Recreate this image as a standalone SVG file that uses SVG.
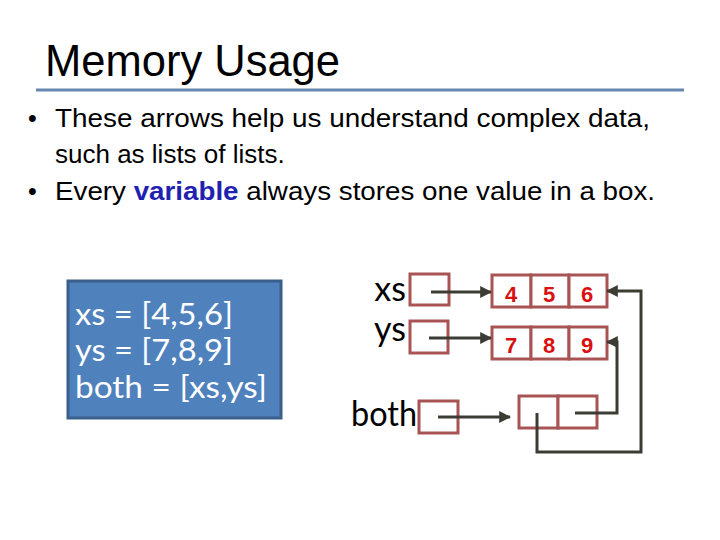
<svg xmlns="http://www.w3.org/2000/svg" width="720" height="540" viewBox="0 0 720 540">
<defs>
<style>
.title{font-family:"Liberation Sans",Arial,sans-serif;font-size:44px;fill:#000}
.bul{font-family:"Liberation Sans",Arial,sans-serif;font-size:26px;fill:#000}
.dot{font-family:"Liberation Sans",Arial,sans-serif;font-size:25px;fill:#000}
.code{font-family:Lato,"Open Sans",sans-serif;font-size:30px;fill:#fff}
.lbl{font-family:Lato,"Open Sans",sans-serif;font-size:34px;fill:#000}
.num{font-family:"Liberation Sans",Arial,sans-serif;font-size:22px;font-weight:bold;fill:#d81010;text-anchor:middle}
.cell{fill:#fff;stroke:#a85454;stroke-width:3}
.conn{fill:none;stroke:#3c3c34;stroke-width:3}
</style>
<marker id="ah" viewBox="0 0 10 10" refX="9" refY="5" markerWidth="4" markerHeight="4" orient="auto" markerUnits="strokeWidth">
<path d="M0,0 L10,5 L0,10 z" fill="#3c3c34"/>
</marker>
</defs>
<rect width="720" height="540" fill="#fff"/>
<g id="title">
<text class="title" x="45" y="76" textLength="295" lengthAdjust="spacingAndGlyphs">Memory Usage</text>
<line x1="36" y1="90" x2="684" y2="90" stroke="#6688b0" stroke-width="3"/>
</g>
<g id="bullets">
<text class="dot" x="28" y="127">•</text>
<text class="bul" x="55" y="127" textLength="595" lengthAdjust="spacingAndGlyphs">These arrows help us understand complex data,</text>
<text class="bul" x="55" y="163">such as lists of lists.</text>
<text class="dot" x="28" y="200">•</text>
<text class="bul" x="55" y="200" textLength="600" lengthAdjust="spacingAndGlyphs">Every <tspan font-weight="bold" fill="#1f22b0">variable</tspan> always stores one value in a box.</text>
</g>
<g id="code">
<rect x="68" y="281" width="213" height="137" fill="#4f81bd" stroke="#3a5f8c" stroke-width="3"/>
<text class="code" x="75" y="325" textLength="158" lengthAdjust="spacingAndGlyphs">xs = [4,5,6]</text>
<text class="code" x="75" y="361" textLength="158" lengthAdjust="spacingAndGlyphs">ys = [7,8,9]</text>
<text class="code" x="75" y="398" textLength="192" lengthAdjust="spacingAndGlyphs">both = [xs,ys]</text>
</g>
<g id="xs">
<text class="lbl" x="406" y="301" text-anchor="end">xs</text>
<rect class="cell" x="410" y="274" width="39" height="31"/>
</g>
<g id="ys">
<text class="lbl" x="406" y="341" text-anchor="end">ys</text>
<rect class="cell" x="410" y="321" width="38" height="32"/>
</g>
<g id="both">
<text class="lbl" x="351" y="426" textLength="66" lengthAdjust="spacingAndGlyphs">both</text>
<rect class="cell" x="419" y="401" width="39" height="32"/>
</g>
<g id="list456">
<rect class="cell" x="492" y="275" width="39" height="32"/>
<rect class="cell" x="531" y="275" width="38" height="32"/>
<rect class="cell" x="569" y="275" width="38" height="32"/>
<text class="num" x="511" y="302">4</text>
<text class="num" x="549" y="302">5</text>
<text class="num" x="587" y="302">6</text>
</g>
<g id="list789">
<rect class="cell" x="492" y="327" width="39" height="32"/>
<rect class="cell" x="531" y="327" width="38" height="32"/>
<rect class="cell" x="569" y="327" width="38" height="32"/>
<text class="num" x="511" y="353">7</text>
<text class="num" x="549" y="353">8</text>
<text class="num" x="587" y="353">9</text>
</g>
<g id="listboth">
<rect class="cell" x="519" y="396" width="39" height="32"/>
<rect class="cell" x="558" y="396" width="39" height="32"/>
</g>
<g id="connectors">
<path class="conn" d="M431,292 H491" marker-end="url(#ah)"/>
<path class="conn" d="M429,338 H491" marker-end="url(#ah)"/>
<path class="conn" d="M438,417 H510" marker-end="url(#ah)"/>
<path class="conn" d="M537,413 V452 H641 V291 H607" marker-end="url(#ah)"/>
<path class="conn" d="M575,413 H617 V342 H607" marker-end="url(#ah)"/>
</g>
</svg>
